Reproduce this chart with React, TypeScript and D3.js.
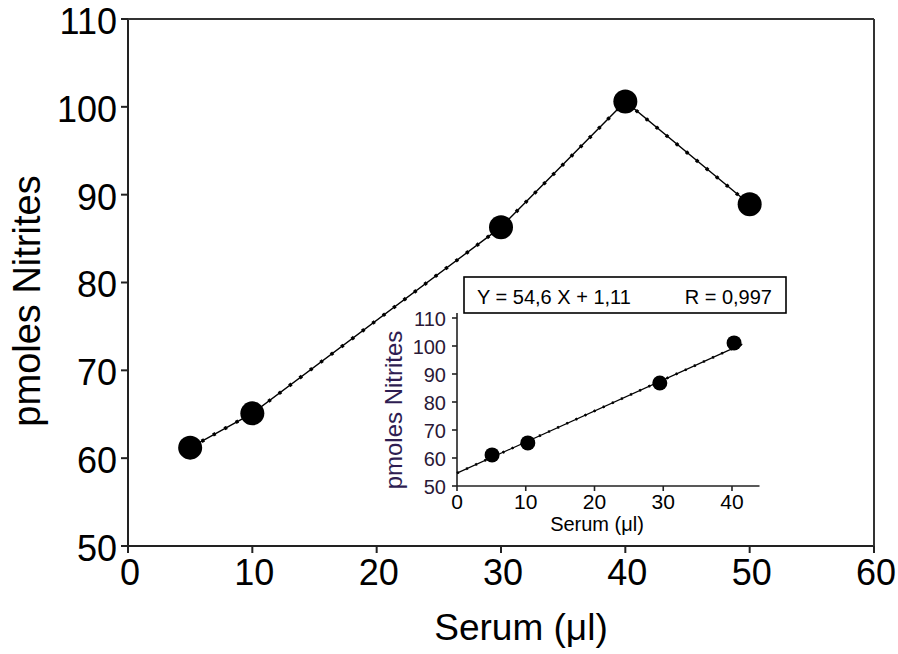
import React from "react";
import * as d3 from "d3";

const mainSerum = [5, 10, 30, 40, 50];
const mainNitrites = [61.2, 65.1, 86.3, 100.6, 88.9];
const mainXTicks = [0, 10, 20, 30, 40, 50, 60];
const mainYTicks = [50, 60, 70, 80, 90, 100, 110];

const insetSerum = [5.1, 10.3, 29.5, 40.3];
const insetNitrites = [61.1, 65.4, 86.8, 101.1];
const insetXTicks = [0, 10, 20, 30, 40];
const insetYTicks = [50, 60, 70, 80, 90, 100, 110];
const fitIntercept = 54.6;
const fitSlope = 1.11;
const fitRange = [0, 41.5];
const equationText = "Y = 54,6 X + 1,11";
const rText = "R = 0,997";

const FONT = "'Liberation Sans', Arial, Helvetica, sans-serif";

export default function App() {
  const x = d3.scaleLinear().domain([0, 60]).range([128, 874]);
  const y = d3.scaleLinear().domain([50, 110]).range([546, 19]);

  const xi = d3.scaleLinear().domain([0, 40]).range([457, 732]);
  const yi = d3.scaleLinear().domain([50, 110]).range([486, 318]);

  const mainPts: [number, number][] = mainSerum.map((s, i) => [x(s), y(mainNitrites[i])]);
  const mainPath = d3.line()(mainPts) || "";

  const fitPts: [number, number][] = fitRange.map((s) => [xi(s), yi(fitIntercept + fitSlope * s)]);
  const fitPath = d3.line()(fitPts) || "";

  const axisColor = "#222";
  const insetText = "#2a1836";

  return (
    <svg
      width={898}
      height={654}
      style={{ position: "absolute", left: 0, top: 0, background: "#fff" }}
      fontFamily={FONT}
    >
      <rect x={0} y={0} width={898} height={654} fill="#fff" />
      {/* main frame */}
      <line x1={x(0)} x2={x(60)} y1={y(50)} y2={y(50)} stroke={axisColor} strokeWidth={2} />
      <line x1={x(0)} x2={x(0)} y1={y(50)} y2={y(110)} stroke={axisColor} strokeWidth={2} />
      <line x1={x(0)} x2={x(60)} y1={y(110)} y2={y(110)} stroke="#333" strokeWidth={2} />
      <line x1={x(60)} x2={x(60)} y1={y(110)} y2={y(50)} stroke="#333" strokeWidth={2} />

      {mainYTicks.map((t) => (
        <g key={"my" + t}>
          <line x1={x(0) - 7} x2={x(0)} y1={y(t)} y2={y(t)} stroke={axisColor} strokeWidth={2} />
          <text x={117} y={y(t) + 2} dy="0.36em" textAnchor="end" fontSize={36} fill="#000">
            {t}
          </text>
        </g>
      ))}
      {mainXTicks.map((t) => (
        <g key={"mx" + t}>
          <line x1={x(t)} x2={x(t)} y1={y(50)} y2={y(50) + 7} stroke={axisColor} strokeWidth={2} />
          <text x={x(t) + 2} y={585} textAnchor="middle" fontSize={36} fill="#000">
            {t}
          </text>
        </g>
      ))}

      <text x={521} y={640} textAnchor="middle" fontSize={37} fill="#000">
        Serum (μl)
      </text>
      <text
        transform={`translate(40,301) rotate(-90)`}
        textAnchor="middle"
        fontSize={38}
        fill="#000"
      >
        pmoles Nitrites
      </text>

      {/* main series */}
      <path d={mainPath} fill="none" stroke="#000" strokeWidth={1.4} />
      <path d={mainPath} fill="none" stroke="#000" strokeWidth={3.5} strokeDasharray="3 10" />
      {mainPts.map((p, i) => (
        <circle key={"mp" + i} cx={p[0]} cy={p[1]} r={12} fill="#000" />
      ))}

      {/* inset */}
      <rect x={464} y={277} width={322} height={36} fill="#fff" stroke="#000" strokeWidth={1.6} />
      <text x={477} y={304} fontSize={20} fill="#000">
        {equationText}
      </text>
      <text x={772} y={304} textAnchor="end" fontSize={20} fill="#000">
        {rText}
      </text>

      <line x1={xi(0)} x2={xi(44)} y1={yi(50)} y2={yi(50)} stroke={axisColor} strokeWidth={1.6} />
      <line x1={xi(0)} x2={xi(0)} y1={yi(50)} y2={313} stroke={axisColor} strokeWidth={1.6} />
      {insetYTicks.map((t) => (
        <g key={"iy" + t}>
          <line x1={xi(0) - 5} x2={xi(0)} y1={yi(t)} y2={yi(t)} stroke={axisColor} strokeWidth={1.6} />
          <text x={446} y={yi(t) + 1} dy="0.36em" textAnchor="end" fontSize={20} fill={insetText}>
            {t}
          </text>
        </g>
      ))}
      {insetXTicks.map((t) => (
        <g key={"ix" + t}>
          <line x1={xi(t)} x2={xi(t)} y1={yi(50)} y2={yi(50) + 5} stroke={axisColor} strokeWidth={1.6} />
          <text x={xi(t)} y={509} textAnchor="middle" fontSize={21} fill="#000">
            {t}
          </text>
        </g>
      ))}
      <text x={597} y={531} textAnchor="middle" fontSize={20} fill="#000">
        Serum (μl)
      </text>
      <text
        transform={`translate(402,410) rotate(-90)`}
        textAnchor="middle"
        fontSize={24}
        fill="#2e1d52"
      >
        pmoles Nitrites
      </text>

      <path d={fitPath} fill="none" stroke="#000" strokeWidth={1.2} />
      <path d={fitPath} fill="none" stroke="#000" strokeWidth={2.6} strokeDasharray="2 8" />
      {insetSerum.map((s, i) => (
        <circle key={"ip" + i} cx={xi(s)} cy={yi(insetNitrites[i])} r={7.5} fill="#000" />
      ))}
    </svg>
  );
}
